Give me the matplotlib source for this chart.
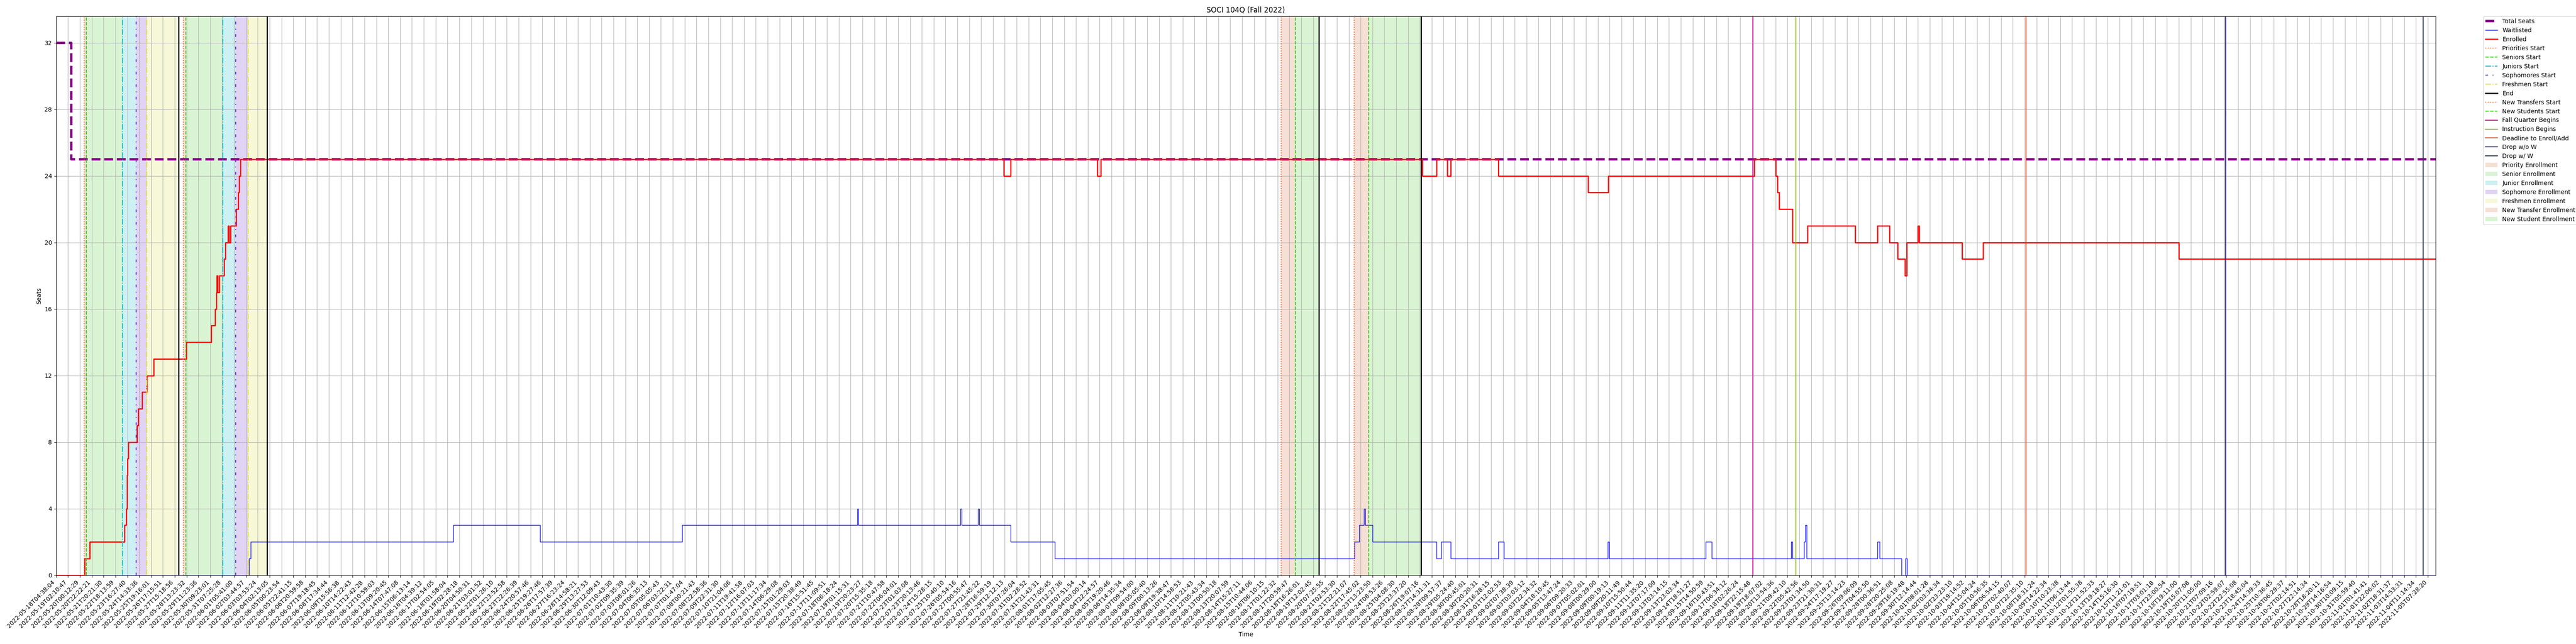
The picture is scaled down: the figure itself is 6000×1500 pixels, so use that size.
import matplotlib
matplotlib.use("Agg")
import matplotlib.pyplot as plt

TITLE = "SOCI 104Q (Fall 2022)"

TICK_LABELS = [
    "2022-05-18T04:38:04", "2022-05-19T02:10:47", "2022-05-20T00:12:29", "2022-05-20T22:22:21",
    "2022-05-21T20:21:30", "2022-05-22T18:13:59", "2022-05-23T16:27:40", "2022-05-24T14:33:36",
    "2022-05-25T19:16:01", "2022-05-26T17:15:51", "2022-05-27T15:18:56", "2022-05-28T13:23:32",
    "2022-05-29T11:23:36", "2022-05-30T09:23:01", "2022-05-31T07:25:28", "2022-06-01T05:41:00",
    "2022-06-02T03:44:57", "2022-06-03T03:53:24", "2022-06-04T02:13:05", "2022-06-05T00:23:54",
    "2022-06-05T22:41:15", "2022-06-06T20:59:58", "2022-06-07T19:18:45", "2022-06-08T17:34:44",
    "2022-06-09T15:56:38", "2022-06-10T14:22:43", "2022-06-11T12:42:28", "2022-06-12T10:59:03",
    "2022-06-13T09:20:45", "2022-06-14T07:47:08", "2022-06-15T06:13:14", "2022-06-16T04:39:12",
    "2022-06-17T02:54:05", "2022-06-18T01:58:04", "2022-06-19T02:28:18", "2022-06-20T04:50:31",
    "2022-06-21T03:01:52", "2022-06-22T01:26:10", "2022-06-22T23:52:58", "2022-06-23T22:26:39",
    "2022-06-24T20:57:46", "2022-06-25T19:27:46", "2022-06-26T17:57:39", "2022-06-27T16:23:24",
    "2022-06-28T14:58:21", "2022-06-29T13:27:53", "2022-06-30T12:09:43", "2022-07-01T10:43:30",
    "2022-07-02T09:35:39", "2022-07-03T08:01:26", "2022-07-04T06:35:13", "2022-07-05T05:05:43",
    "2022-07-06T03:22:31", "2022-07-07T01:47:04", "2022-07-08T00:21:43", "2022-07-08T22:58:36",
    "2022-07-09T22:31:30", "2022-07-10T21:04:06", "2022-07-11T19:41:58", "2022-07-12T16:07:03",
    "2022-07-13T11:17:34", "2022-07-14T06:29:08", "2022-07-15T01:29:03", "2022-07-15T20:38:49",
    "2022-07-16T15:51:45", "2022-07-17T11:09:51", "2022-07-18T06:18:24", "2022-07-19T01:15:31",
    "2022-07-19T20:23:27", "2022-07-20T15:35:18", "2022-07-21T10:47:58", "2022-07-22T06:04:01",
    "2022-07-23T01:03:08", "2022-07-23T20:13:46", "2022-07-24T15:28:15", "2022-07-25T10:40:10",
    "2022-07-26T05:54:16", "2022-07-27T00:55:47", "2022-07-27T21:45:22", "2022-07-28T16:59:19",
    "2022-07-29T12:12:13", "2022-07-30T07:26:04", "2022-07-31T02:28:52", "2022-07-31T21:43:31",
    "2022-08-01T17:05:45", "2022-08-02T12:27:36", "2022-08-03T07:51:54", "2022-08-04T03:00:14",
    "2022-08-04T22:24:57", "2022-08-05T19:20:46", "2022-08-06T14:35:34", "2022-08-07T09:54:00",
    "2022-08-08T05:05:40", "2022-08-09T00:13:26", "2022-08-09T19:38:47", "2022-08-10T14:58:53",
    "2022-08-11T10:21:43", "2022-08-12T05:43:34", "2022-08-13T00:50:18", "2022-08-13T20:07:59",
    "2022-08-14T15:27:11", "2022-08-15T10:44:06", "2022-08-16T06:10:15", "2022-08-17T01:22:32",
    "2022-08-17T20:59:47", "2022-08-18T16:26:01", "2022-08-19T12:02:45", "2022-08-20T07:25:55",
    "2022-08-21T02:53:30", "2022-08-21T22:21:07", "2022-08-22T17:45:02", "2022-08-23T13:23:50",
    "2022-08-24T08:53:26", "2022-08-25T04:08:30", "2022-08-25T23:37:20", "2022-08-26T19:07:16",
    "2022-08-27T14:31:31", "2022-08-28T09:57:37", "2022-08-29T05:24:40", "2022-08-30T00:45:01",
    "2022-08-30T20:20:31", "2022-08-31T16:28:15", "2022-09-01T12:02:53", "2022-09-02T07:38:39",
    "2022-09-03T03:03:12", "2022-09-03T22:34:32", "2022-09-04T18:10:45", "2022-09-05T13:47:24",
    "2022-09-06T09:20:33", "2022-09-07T05:02:01", "2022-09-08T00:29:00", "2022-09-09T00:19:13",
    "2022-09-09T20:11:49", "2022-09-10T15:50:44", "2022-09-11T11:35:20", "2022-09-12T07:17:09",
    "2022-09-13T03:14:15", "2022-09-13T23:03:34", "2022-09-14T18:51:27", "2022-09-15T14:50:59",
    "2022-09-16T10:43:51", "2022-09-17T06:34:12", "2022-09-18T02:26:24", "2022-09-18T22:15:48",
    "2022-09-19T18:07:02", "2022-09-20T13:54:36", "2022-09-21T09:42:10", "2022-09-22T05:42:56",
    "2022-09-23T01:34:50", "2022-09-23T21:30:31", "2022-09-24T17:19:27", "2022-09-25T13:14:23",
    "2022-09-26T09:06:09", "2022-09-27T04:55:50", "2022-09-28T00:36:51", "2022-09-28T20:25:08",
    "2022-09-29T16:19:48", "2022-09-30T12:14:44", "2022-10-01T08:01:28", "2022-10-02T03:34:34",
    "2022-10-02T23:23:10", "2022-10-03T19:14:52", "2022-10-04T15:04:24", "2022-10-05T10:56:35",
    "2022-10-06T06:54:15", "2022-10-07T02:40:07", "2022-10-07T22:35:10", "2022-10-08T18:31:24",
    "2022-10-09T14:22:34", "2022-10-10T10:23:38", "2022-10-11T06:13:44", "2022-10-12T01:55:38",
    "2022-10-12T21:52:33", "2022-10-13T19:18:27", "2022-10-14T15:16:30", "2022-10-15T11:21:01",
    "2022-10-16T07:19:51", "2022-10-17T03:01:18", "2022-10-17T23:00:54", "2022-10-18T19:11:00",
    "2022-10-19T15:07:08", "2022-10-20T11:05:00", "2022-10-21T07:09:16", "2022-10-22T02:59:07",
    "2022-10-22T22:55:08", "2022-10-23T18:45:04", "2022-10-24T14:39:33", "2022-10-25T10:36:45",
    "2022-10-26T06:29:37", "2022-10-27T02:14:51", "2022-10-27T22:14:34", "2022-10-28T18:20:11",
    "2022-10-29T14:16:54", "2022-10-30T10:09:15", "2022-10-31T05:59:40", "2022-11-01T01:41:41",
    "2022-11-01T22:06:02", "2022-11-02T18:31:37", "2022-11-03T14:53:31", "2022-11-04T11:14:34",
    "2022-11-05T07:28:20",
]

# x positions are in tick units (one tick label every fixed number of samples)
X_END = 200.65

SEATS_X = [0, 1.28]
SEATS_Y = [32, 25]

ENROLLED_X = [0, 2.41, 2.84, 5.76, 5.92, 5.97, 6.02, 6.08, 6.81, 6.92, 7.23, 7.66, 8.23,
              10.97, 13.07, 13.42, 13.5, 13.55, 13.62, 13.77, 14.15, 14.26, 14.5, 14.56,
              14.7, 15.19, 15.37, 15.42, 15.53, 79.9, 80.5, 87.8, 88.1, 115.2, 116.4,
              117.3, 117.6, 121.6, 129.2, 130.9, 143.2, 145.0, 145.15, 145.3, 146.4,
              147.7, 151.7, 153.6, 154.6, 155.3, 155.9, 156.05, 157.0, 157.1, 160.7,
              162.5, 179.0]
ENROLLED_Y = [0, 1, 2, 3, 4, 6, 7, 8, 9, 10, 11, 12, 13,
              14, 15, 16, 17, 18, 17, 18, 19, 20, 21, 20,
              21, 22, 23, 24, 25, 24, 25, 24, 25, 24, 25,
              24, 25, 24, 23, 24, 25, 24, 23, 22, 20,
              21, 20, 21, 20, 19, 18, 20, 21, 20, 19,
              20, 19]

WAIT_X = [0, 16.26, 16.4, 33.5, 40.8, 52.8, 67.55, 67.65, 76.25, 76.35, 77.75, 77.85,
          80.5, 84.2, 109.5, 109.9, 110.3, 110.4, 111.0, 116.4, 116.8, 117.6, 121.6,
          122.1, 130.85, 130.95, 139.1, 139.6, 146.3, 146.4, 147.4, 147.5, 147.6,
          153.6, 153.75, 155.6, 155.95, 156.1]
WAIT_Y = [0, 1, 2, 3, 2, 3, 4, 3, 4, 3, 4, 3,
          2, 1, 2, 3, 4, 3, 2, 1, 2, 1, 2,
          1, 2, 1, 2, 1, 2, 1, 2, 3, 1,
          2, 1, 0, 1, 0]

# enrollment passes: priority, seniors, juniors, sophomores, freshmen, end
PASS_STARTS = [[2.36, 2.53, 5.6, 6.73, 7.64, 10.32],
               [10.74, 10.93, 14.04, 15.13, 16.18, 17.8]]
# new student windows: transfers, new students, end
NEW_STARTS = [[103.3, 104.5, 106.5],
              [109.45, 110.7, 115.1]]

FALL_BEGINS = 143.1
INSTRUCTION_BEGINS = 146.7
ENROLL_DEADLINE = 166.1
DROP_NO_W = 182.9
DROP_W = 199.6

PRIORITY_COLOR = "#f26b38"
SENIOR_COLOR = "#3ec71c"

fig, ax = plt.subplots(figsize=(60, 15), dpi=100)
fig.subplots_adjust(left=0.0218, right=0.9455, top=0.975, bottom=0.107)

ax.plot(SEATS_X + [X_END], SEATS_Y + [SEATS_Y[-1]], drawstyle="steps-post",
        color="purple", linestyle="--", linewidth=4, label="Total Seats")
ax.plot(WAIT_X + [X_END], WAIT_Y + [WAIT_Y[-1]], drawstyle="steps-post",
        color="blue", linewidth=1, label="Waitlisted")
ax.plot(ENROLLED_X + [X_END], ENROLLED_Y + [ENROLLED_Y[-1]], drawstyle="steps-post",
        color="red", linewidth=2, label="Enrolled")

line_styles = [
    ("Priorities Start", PRIORITY_COLOR, ":", 1.5),
    ("Seniors Start", SENIOR_COLOR, "--", 1.5),
    ("Juniors Start", "#12c7d4", "-.", 1.5),
    ("Sophomores Start", "#6a22d6", (0, (3, 5, 1, 5)), 1.5),
    ("Freshmen Start", "#e0e030", "-.", 1.5),
    ("End", "black", "-", 2),
]
span_styles = [
    ("Priority Enrollment", "#f6dfd5"),
    ("Senior Enrollment", "#d9f4d2"),
    ("Junior Enrollment", "#cdf0f2"),
    ("Sophomore Enrollment", "#e0d3f4"),
    ("Freshmen Enrollment", "#f6f8d8"),
]

# vertical marker lines first (legend follows creation order)
for i, starts in enumerate(PASS_STARTS):
    for j, (name, color, ls, lw) in enumerate(line_styles):
        ax.axvline(starts[j], color=color, linestyle=ls, linewidth=lw,
                   label=name if i == 0 else None)

for i, (t_start, s_start, end) in enumerate(NEW_STARTS):
    ax.axvline(t_start, color=PRIORITY_COLOR, linestyle=":", linewidth=1.5,
               label="New Transfers Start" if i == 0 else None)
    ax.axvline(s_start, color=SENIOR_COLOR, linestyle="--", linewidth=1.5,
               label="New Students Start" if i == 0 else None)
    ax.axvline(end, color="black", linewidth=2)

ax.axvline(FALL_BEGINS, color="#e0109a", linewidth=1.5, label="Fall Quarter Begins")
ax.axvline(INSTRUCTION_BEGINS, color="#8db21a", linewidth=1.5, label="Instruction Begins")
ax.axvline(ENROLL_DEADLINE, color="#d8431e", linewidth=1.5, label="Deadline to Enroll/Add")
ax.axvline(DROP_NO_W, color="#2c2585", linewidth=1.5, label="Drop w/o W")
ax.axvline(DROP_W, color="#2b3a5a", linewidth=1.5, label="Drop w/ W")

# shaded enrollment windows
for i, starts in enumerate(PASS_STARTS):
    for j, (name, color) in enumerate(span_styles):
        ax.axvspan(starts[j], starts[j + 1], color=color, linewidth=0,
                   label=name if i == 0 else None)

for i, (t_start, s_start, end) in enumerate(NEW_STARTS):
    ax.axvspan(t_start, s_start, color="#f6dfd5", linewidth=0,
               label="New Transfer Enrollment" if i == 0 else None)
    ax.axvspan(s_start, end, color="#d9f4d2", linewidth=0,
               label="New Student Enrollment" if i == 0 else None)

ax.set_xlim(0, X_END)
ax.set_ylim(0, 33.6)
ax.set_yticks(range(0, 33, 4))
ax.set_xticks(range(len(TICK_LABELS)))
ax.set_xticklabels(TICK_LABELS, rotation=45, ha="right")
ax.grid(True)
ax.set_title(TITLE)
ax.set_xlabel("Time")
ax.set_ylabel("Seats")
ax.legend(loc="upper left", bbox_to_anchor=(1.02, 1), borderaxespad=0)

fig.savefig("out.png")
